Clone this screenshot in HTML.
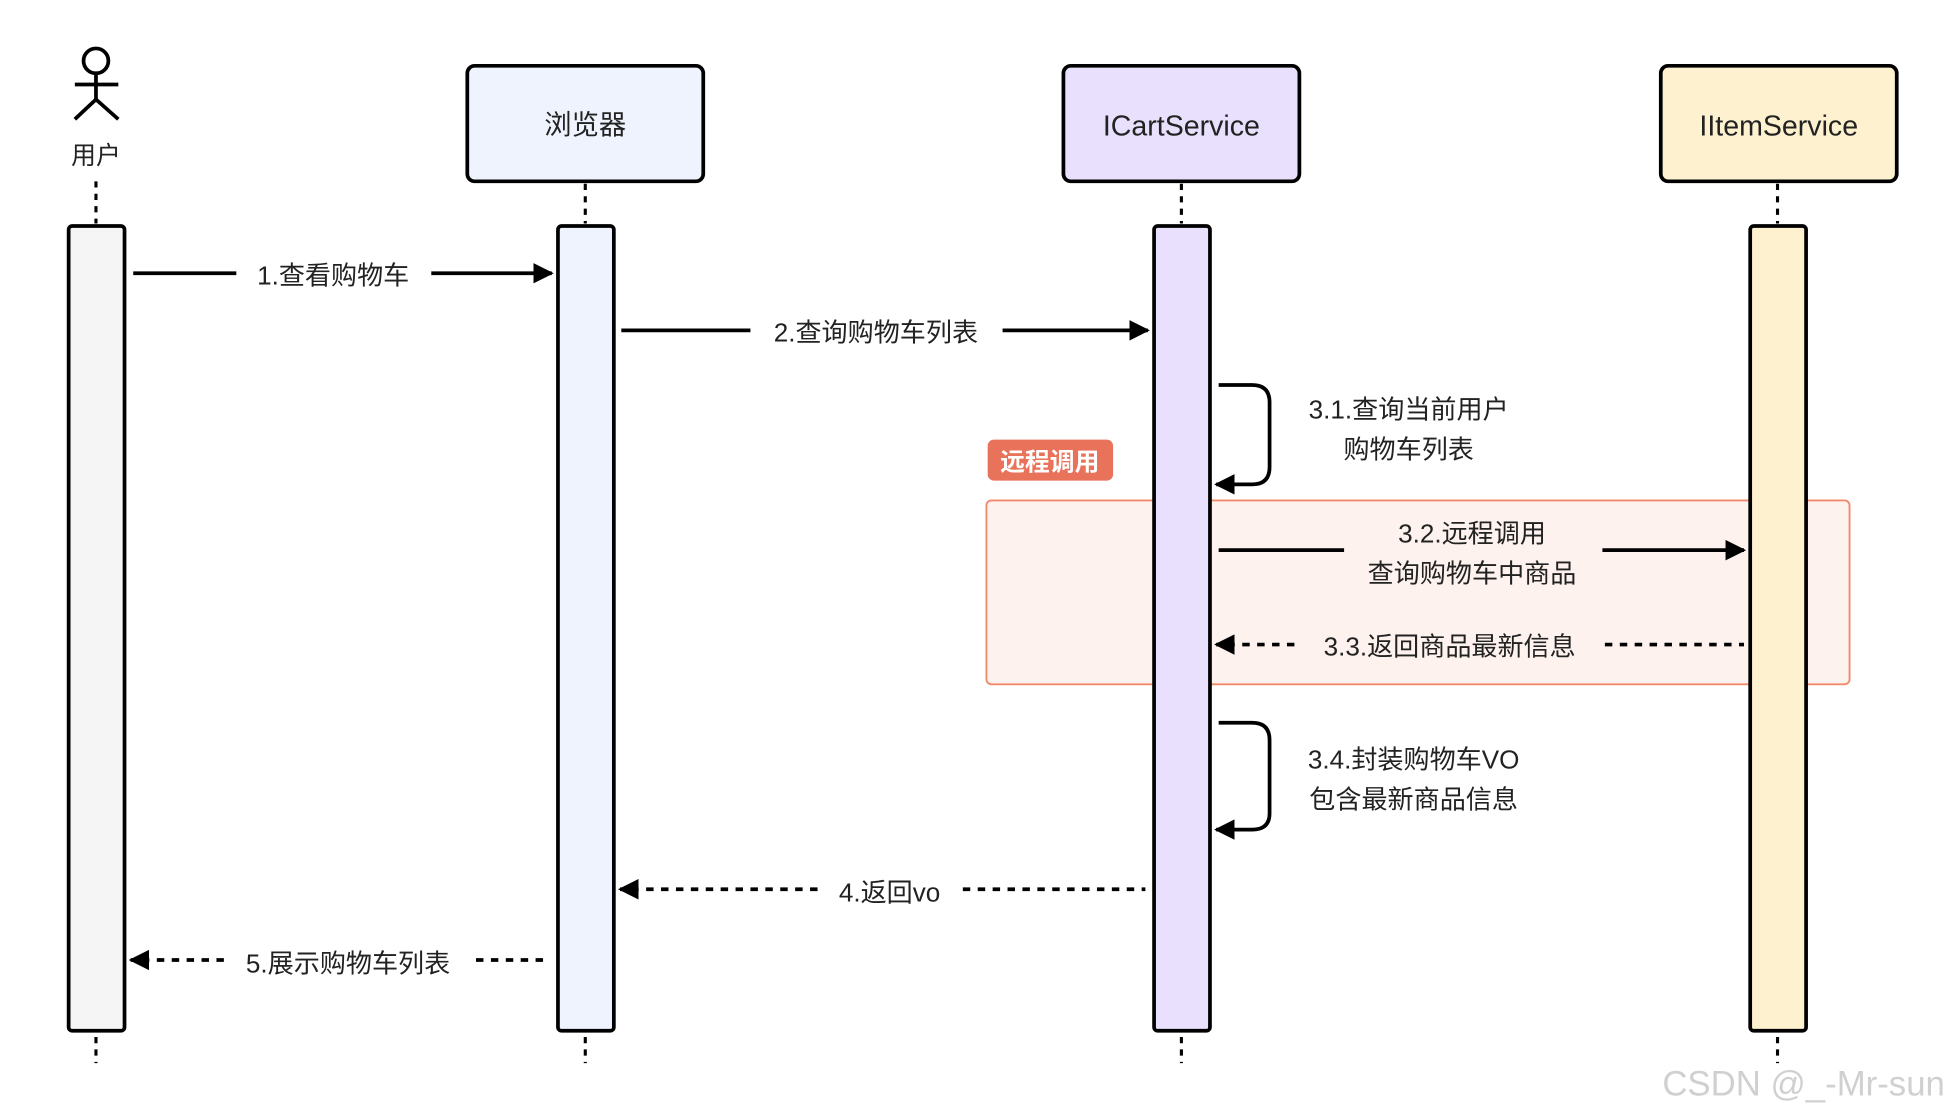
<!DOCTYPE html>
<html><head><meta charset="utf-8"><style>
html,body{margin:0;padding:0;background:#fff;width:1948px;height:1114px;overflow:hidden}
svg text{font-family:"Liberation Sans","Noto Sans CJK SC",sans-serif;fill:#222}
</style></head><body>
<svg width="1948" height="1114" viewBox="0 0 1568 897" xmlns="http://www.w3.org/2000/svg">
<defs>
<marker id="a" viewBox="0 0 10 10" refX="9" refY="5" markerWidth="5.5" markerHeight="5.5" orient="auto"><path d="M0,0L10,5L0,10z" fill="#000"/></marker>
</defs>
<g stroke="#000" stroke-width="3" fill="none">
<circle cx="77" cy="49" r="10"/>
<line x1="77" y1="59" x2="77" y2="80"/><line x1="60" y1="68" x2="95" y2="68"/>
<path d="M60,96L77,80L95,96"/>
</g>
<text x="77" y="132" font-size="20" text-anchor="middle">用户</text>
<g stroke="#000" stroke-width="2.5" stroke-dasharray="5,5">
<line x1="77" y1="146" x2="77" y2="180"/><line x1="77" y1="835" x2="77" y2="856"/>
<line x1="471" y1="148" x2="471" y2="180"/><line x1="471" y1="835" x2="471" y2="856"/>
<line x1="951" y1="148" x2="951" y2="180"/><line x1="951" y1="835" x2="951" y2="856"/>
<line x1="1431" y1="148" x2="1431" y2="180"/><line x1="1431" y1="835" x2="1431" y2="856"/>
</g>
<rect x="794" y="403" width="695" height="148" rx="4" fill="#fdf2ee" stroke="#f08a6c" stroke-width="1.5"/>
<rect x="795" y="354" width="101" height="33" rx="5" fill="#e8725a"/>
<text x="845" y="379" font-size="20" font-weight="bold" text-anchor="middle" style="fill:#fff">远程调用</text>
<g stroke="#000" stroke-width="3">
<rect x="376" y="53" width="190" height="93" rx="6" fill="#eef3fd"/>
<rect x="856" y="53" width="190" height="93" rx="6" fill="#e8e0fc"/>
<rect x="1337" y="53" width="190" height="93" rx="6" fill="#fdf1cf"/>
<rect x="55" y="182" width="45" height="648" rx="3" fill="#f5f5f5"/>
<rect x="449" y="182" width="45" height="648" rx="3" fill="#eef3fd"/>
<rect x="929" y="182" width="45" height="648" rx="3" fill="#e8e0fc"/>
<rect x="1409" y="182" width="45" height="648" rx="3" fill="#fdf1cf"/>
</g>
<text x="471" y="108" font-size="22" text-anchor="middle">浏览器</text>
<text x="951" y="109" font-size="23" text-anchor="middle">ICartService</text>
<text x="1432" y="109" font-size="23" text-anchor="middle">IItemService</text>
<g stroke="#000" stroke-width="3" fill="none">
<line x1="107" y1="220" x2="190" y2="220"/><line x1="347" y1="220" x2="444" y2="220" marker-end="url(#a)"/>
<line x1="500" y1="266" x2="604" y2="266"/><line x1="807" y1="266" x2="924" y2="266" marker-end="url(#a)"/>
<path d="M981,310H1008Q1022,310 1022,324V376Q1022,390 1008,390H979" marker-end="url(#a)"/>
<line x1="981" y1="443" x2="1082" y2="443"/><line x1="1290" y1="443" x2="1404" y2="443" marker-end="url(#a)"/>
<path d="M981,582H1008Q1022,582 1022,596V655Q1022,668 1008,668H979" marker-end="url(#a)"/>
</g>
<g stroke="#000" stroke-width="3" fill="none" stroke-dasharray="6,6">
<line x1="1042" y1="519" x2="979" y2="519" marker-end="url(#a)"/><line x1="1292" y1="519" x2="1404" y2="519"/>
<line x1="658" y1="716" x2="499" y2="716" marker-end="url(#a)"/><line x1="775" y1="716" x2="922" y2="716"/>
<line x1="180" y1="773" x2="105" y2="773" marker-end="url(#a)"/><line x1="383" y1="773" x2="442" y2="773"/>
</g>
<g font-size="21">
<text x="268" y="229" text-anchor="middle">1.查看购物车</text>
<text x="705" y="275" text-anchor="middle">2.查询购物车列表</text>
<text x="1134" y="337" text-anchor="middle">3.1.查询当前用户</text>
<text x="1134" y="369" text-anchor="middle">购物车列表</text>
<text x="1185" y="437" text-anchor="middle">3.2.远程调用</text>
<text x="1185" y="469" text-anchor="middle">查询购物车中商品</text>
<text x="1167" y="528" text-anchor="middle">3.3.返回商品最新信息</text>
<text x="1138" y="619" text-anchor="middle">3.4.封装购物车VO</text>
<text x="1138" y="651" text-anchor="middle">包含最新商品信息</text>
<text x="716" y="726" text-anchor="middle">4.返回vo</text>
<text x="280" y="783" text-anchor="middle">5.展示购物车列表</text>
</g>
<text x="1452" y="882" font-size="28" text-anchor="middle" style="fill:#d0d0d0">CSDN @_-Mr-sun</text>
</svg>
</body></html>
